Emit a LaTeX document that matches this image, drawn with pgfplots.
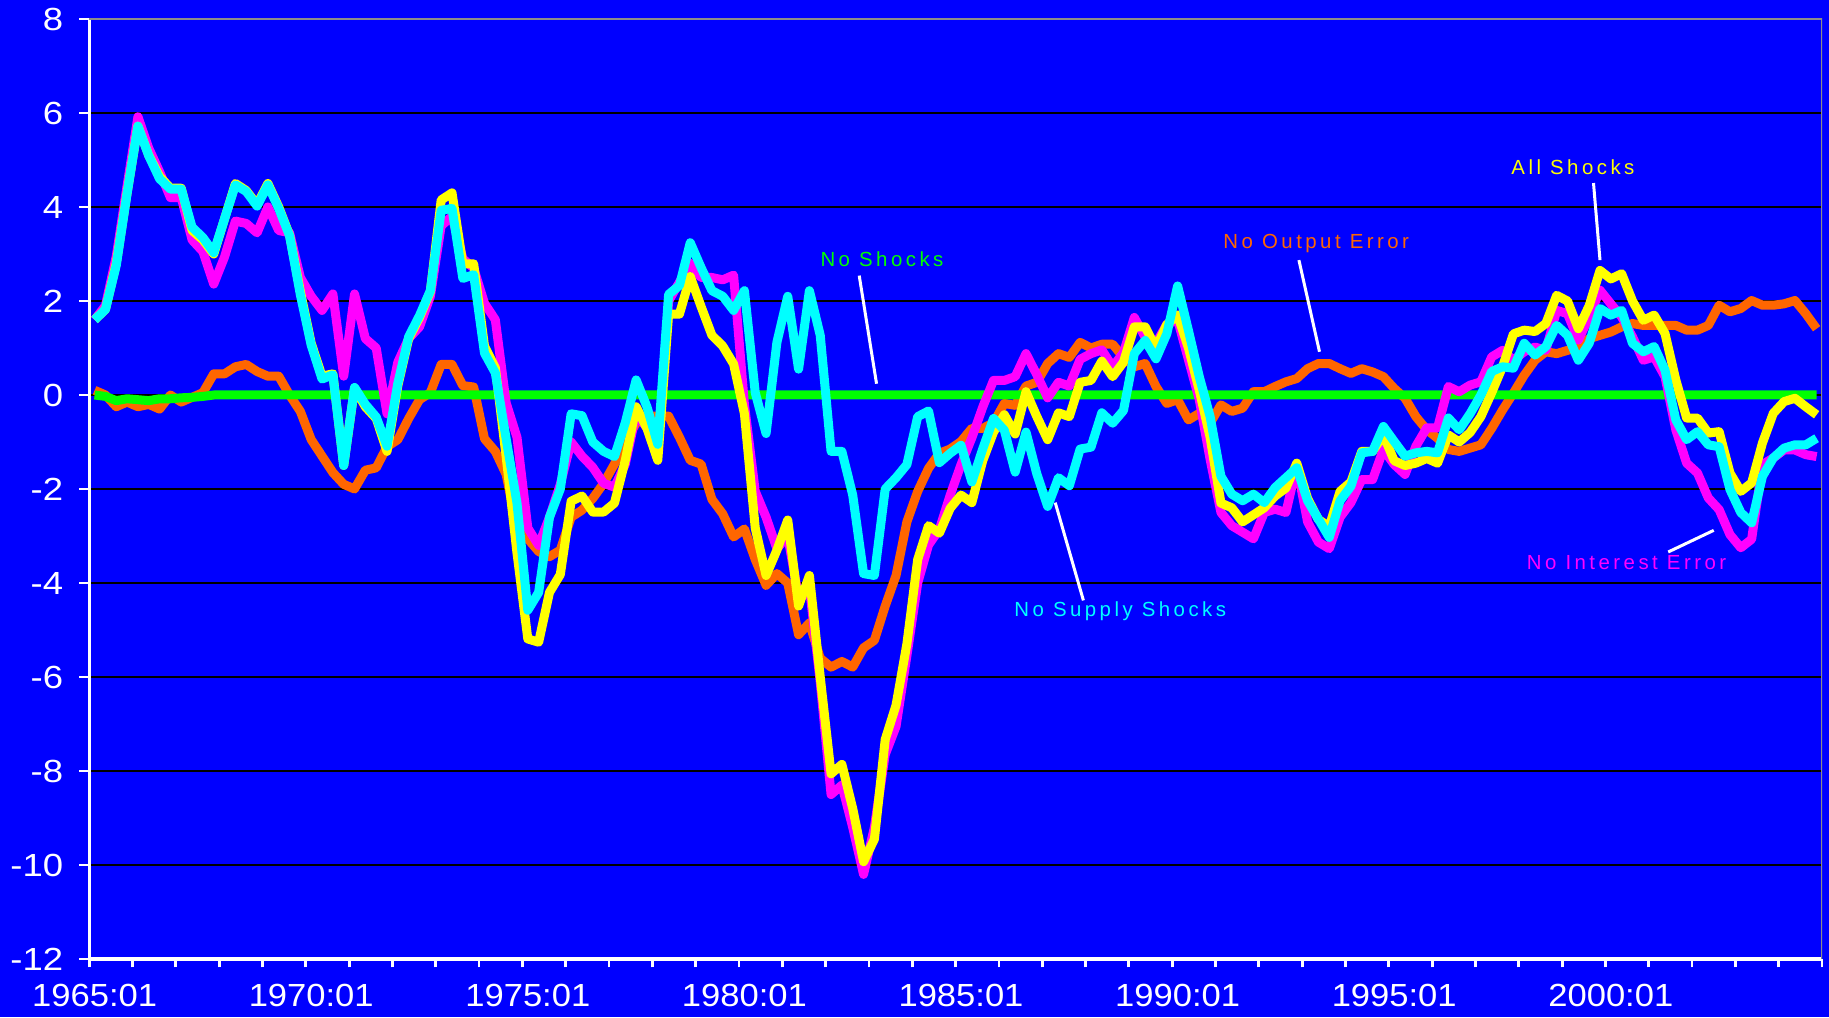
\documentclass[border=0pt]{standalone}
\usepackage{fontspec}
\setmainfont{Liberation Sans}
\newfontfamily\tickfont{Liberation Sans}[FakeStretch=1.08]
\newfontfamily\ytickfont{Liberation Sans}[FakeStretch=1.14]
\newfontfamily\annfont{Liberation Sans}[LetterSpace=17]
\usepackage{pgfplots}
\pgfplotsset{compat=1.18}
\usepackage{pgfplotstable}
\usetikzlibrary{backgrounds}
\definecolor{bgblue}{RGB}{0,0,255}
\definecolor{sercyan}{RGB}{0,255,255}
\definecolor{seryellow}{RGB}{255,255,0}
\definecolor{sermagenta}{RGB}{255,0,255}
\definecolor{serorange}{RGB}{255,102,0}
\definecolor{sergreen}{RGB}{0,255,0}
\definecolor{bordergray}{RGB}{140,140,140}

\pgfplotstableread{
q all nosupply nointerest nooutput noshocks
0 1.6 1.6 1.6 0.1 0
1 1.82 1.82 1.9 0.0 -0.03
2 2.8 2.76 2.95 -0.25 -0.12
3 4.3 4.29 4.45 -0.15 -0.08
4 5.72 5.72 5.92 -0.25 -0.1
5 5.1 5.09 5.25 -0.2 -0.12
6 4.65 4.6 4.75 -0.3 -0.08
7 4.4 4.38 4.2 0.0 -0.08
8 4.4 4.38 4.2 -0.15 -0.06
9 3.5 3.57 3.3 -0.05 -0.05
10 3.3 3.35 3.05 0.05 -0.03
11 3.0 3.03 2.36 0.45 0
12 3.75 3.75 2.94 0.45 0
13 4.5 4.47 3.7 0.6 0
14 4.35 4.33 3.65 0.65 0
15 4.05 4.02 3.45 0.5 0
16 4.5 4.47 4.0 0.4 0
17 4.0 3.97 3.5 0.4 0
18 3.4 3.39 3.45 0.0 0
19 2.2 2.13 2.5 -0.35 0
20 1.1 1.06 2.1 -0.95 0
21 0.4 0.34 1.8 -1.3 0
22 0.45 0.43 2.15 -1.65 0
23 -1.5 -1.5 0.4 -1.9 0
24 0.15 0.16 2.15 -2.0 0
25 -0.25 -0.2 1.2 -1.6 0
26 -0.5 -0.47 1.0 -1.55 0
27 -1.2 -1.09 -0.4 -1.1 0
28 0.2 0.25 0.7 -0.95 0
29 1.2 1.24 1.2 -0.5 0
30 1.65 1.69 1.45 -0.1 0
31 2.2 2.22 2.1 0.05 0
32 4.15 3.93 3.6 0.65 0
33 4.3 3.97 3.8 0.65 0
34 2.79 2.48 2.9 0.2 0
35 2.79 2.56 2.7 0.17 0
36 1.04 0.89 1.95 -0.93 0
37 0.58 0.47 1.6 -1.2 0
38 -1.31 -0.93 -0.17 -1.69 0
39 -3.36 -2.3 -0.9 -2.83 0
40 -5.19 -4.58 -2.83 -3.06 0
41 -5.26 -4.2 -3.2 -3.33 0
42 -4.2 -2.6 -2.6 -3.44 0
43 -3.82 -2.0 -1.9 -3.3 0
44 -2.26 -0.4 -1.0 -2.6 0
45 -2.15 -0.44 -1.3 -2.45 0
46 -2.49 -1.0 -1.54 -2.2 0
47 -2.49 -1.2 -1.88 -1.88 0
48 -2.3 -1.31 -1.96 -1.47 0
49 -1.39 -0.59 -1.47 -1.0 0
50 -0.25 0.32 -0.4 -0.6 0
51 -0.71 -0.25 -0.7 -0.45 0
52 -1.39 -1.05 -1.2 -0.45 0
53 1.72 2.14 2.0 -0.45 0
54 1.72 2.33 2.4 -0.9 0
55 2.52 3.24 2.8 -1.39 0
56 1.88 2.71 2.5 -1.47 0
57 1.27 2.22 2.5 -2.22 0
58 1.04 2.1 2.45 -2.53 0
59 0.66 1.8 2.55 -3.02 0
60 -0.4 2.22 -0.2 -2.85 0
61 -2.83 0.05 -2.05 -3.5 0
62 -3.84 -0.82 -2.6 -4.05 0
63 -3.3 1.12 -3.27 -3.8 0
64 -2.66 2.1 -3.0 -4.0 0
65 -4.49 0.55 -4.3 -5.1 0
66 -3.84 2.22 -4.08 -4.85 0
67 -6.0 1.27 -6.1 -5.6 0
68 -8.06 -1.2 -8.5 -5.79 0
69 -7.86 -1.2 -8.3 -5.67 0
70 -8.8 -2.13 -9.2 -5.79 0
71 -9.93 -3.8 -10.2 -5.38 0
72 -9.45 -3.84 -9.2 -5.22 0
73 -7.33 -2.0 -7.65 -4.49 0
74 -6.6 -1.76 -7.05 -3.84 0
75 -5.3 -1.48 -5.55 -2.7 0
76 -3.5 -0.46 -4.0 -2.05 0
77 -2.78 -0.34 -3.19 -1.56 0
78 -2.94 -1.44 -2.86 -1.24 0
79 -2.41 -1.24 -2.13 -1.15 0
80 -2.13 -1.07 -1.48 -0.99 0
81 -2.29 -1.85 -0.91 -0.71 0
82 -1.4 -1.15 -0.26 -0.71 0
83 -0.79 -0.5 0.31 -0.59 0
84 -0.42 -0.75 0.31 -0.18 0
85 -0.83 -1.64 0.39 -0.22 0
86 0.07 -0.79 0.88 0.19 0
87 -0.46 -1.68 0.43 0.27 0
88 -0.95 -2.37 -0.06 0.67 0
89 -0.38 -1.76 0.27 0.88 0
90 -0.46 -1.93 0.19 0.8 0
91 0.27 -1.15 0.76 1.12 0
92 0.31 -1.11 0.88 1.0 0
93 0.72 -0.38 0.96 1.08 0
94 0.39 -0.6 0.6 1.08 0
95 0.7 -0.33 0.9 0.8 0
96 1.45 0.88 1.65 0.6 0
97 1.45 1.16 1.23 0.67 0
98 1.0 0.77 1.1 0.18 0
99 1.5 1.3 1.5 -0.18 0
100 1.7 2.32 1.6 -0.1 0
101 1.0 1.37 0.75 -0.53 0
102 0.1 0.39 -0.1 -0.39 0
103 -0.9 -0.46 -1.37 -0.6 0
104 -2.3 -1.73 -2.5 -0.21 0
105 -2.4 -2.11 -2.78 -0.35 0
106 -2.7 -2.25 -2.92 -0.28 0
107 -2.55 -2.11 -3.06 0.07 0
108 -2.4 -2.29 -2.5 0.07 0
109 -2.15 -1.97 -2.43 0.18 0
110 -1.98 -1.76 -2.5 0.28 0
111 -1.45 -1.55 -1.5 0.35 0
112 -2.2 -2.25 -2.7 0.56 0
113 -2.65 -2.64 -3.13 0.67 0
114 -2.8 -3.03 -3.27 0.67 0
115 -2.05 -2.25 -2.6 0.56 0
116 -1.85 -1.94 -2.29 0.46 0
117 -1.2 -1.23 -1.8 0.56 0
118 -1.2 -1.2 -1.8 0.49 0
119 -0.85 -0.67 -1.16 0.39 0
120 -1.4 -0.99 -1.48 0.14 0
121 -1.5 -1.3 -1.69 -0.07 0
122 -1.45 -1.23 -1.09 -0.46 0
123 -1.35 -1.2 -0.7 -0.74 0
124 -1.45 -1.23 -0.7 -0.92 0
125 -0.85 -0.49 0.18 -1.16 0
126 -1.0 -0.74 0.07 -1.2 0
127 -0.8 -0.4 0.21 -1.13 0
128 -0.46 0.0 0.28 -1.06 0
129 0.05 0.5 0.81 -0.71 0
130 0.6 0.6 0.95 -0.32 0
131 1.3 0.57 0.74 0.04 0
132 1.38 1.1 0.92 0.42 0
133 1.35 0.85 1.02 0.74 0
134 1.52 1.03 0.95 0.92 0
135 2.12 1.48 1.8 0.88 0
136 2.0 1.27 1.73 0.95 0
137 1.41 0.74 1.17 1.02 0
138 1.9 1.1 1.66 1.2 0
139 2.65 1.84 2.23 1.27 0
140 2.47 1.7 1.94 1.34 0
141 2.58 1.8 1.66 1.45 0
142 2.0 1.1 1.24 1.52 0
143 1.59 0.92 0.74 1.48 0
144 1.7 1.03 0.81 1.48 0
145 1.31 0.53 0.39 1.48 0
146 0.32 -0.53 -0.74 1.48 0
147 -0.49 -0.95 -1.45 1.38 0
148 -0.49 -0.78 -1.66 1.38 0
149 -0.81 -1.06 -2.19 1.48 0
150 -0.78 -1.1 -2.44 1.91 0
151 -1.66 -2.01 -2.97 1.77 0
152 -2.05 -2.5 -3.25 1.84 0
153 -1.87 -2.72 -3.07 2.01 0
154 -1.02 -1.73 -1.48 1.91 0
155 -0.39 -1.34 -1.34 1.91 0
156 -0.14 -1.13 -1.17 1.94 0
157 -0.07 -1.06 -1.17 2.01 0
158 -0.25 -1.06 -1.27 1.73 0
159 -0.42 -0.92 -1.31 1.41 0
}\datatable

\begin{document}
\begin{tikzpicture}
\begin{axis}[
  scale only axis, width=866.4pt, height=470pt,
  xmin=-0.5, xmax=159.5, ymin=-12, ymax=8,
  axis lines*=left,
  axis line style={white, line width=1.6pt, -},
  xtick={0,20,...,140},
  xticklabels={1965:01,1970:01,1975:01,1980:01,1985:01,1990:01,1995:01,2000:01},
  minor xtick={-0.5,3.5,...,159.5},
  ytick={-12,-10,...,8},
  yticklabels={-12,-10,-8,-6,-4,-2,0,2,4,6,8},
  tick align=outside,
  major tick length=5pt, minor tick length=4.2pt,
  tick style={white, line width=1.4pt},
  major x tick style={draw=none},
  ymajorgrids, major grid style={black, line width=1.3pt},
  xticklabel style={white, font=\tickfont\fontsize{16}{19}\selectfont, yshift=-6.5pt, inner sep=1pt},
  yticklabel style={white, font=\ytickfont\fontsize{16}{19}\selectfont, xshift=-4.5pt},
  line join=round,
]
\coordinate (ll) at (rel axis cs:0,0);
\coordinate (ur) at (rel axis cs:1,1);
\addplot[serorange, line width=4.5pt] table[x=q, y=nooutput] {\datatable};
\addplot[sergreen, line width=4.5pt] table[x=q, y=noshocks] {\datatable};
\addplot[sermagenta, line width=4.5pt] table[x=q, y=nointerest] {\datatable};
\addplot[seryellow, line width=4.5pt] table[x=q, y=all] {\datatable};
\addplot[sercyan, line width=4.5pt] table[x=q, y=nosupply] {\datatable};
\draw[bordergray, line width=1.5pt] (rel axis cs:0,1) -- (rel axis cs:1,1) -- (rel axis cs:1,0);
% annotations
\draw[white, line width=1.5pt] (axis cs:70.6,2.54) -- (axis cs:72.2,0.24);
\draw[white, line width=1.5pt] (axis cs:111.2,2.87) -- (axis cs:113.1,0.92);
\draw[white, line width=1.5pt] (axis cs:138.4,4.51) -- (axis cs:139.0,2.87);
\draw[white, line width=1.5pt] (axis cs:88.7,-2.29) -- (axis cs:91.3,-4.37);
\draw[white, line width=1.5pt] (axis cs:145.3,-3.34) -- (axis cs:149.5,-2.88);
\node[text=sergreen, font=\annfont\fontsize{10.2}{12}\selectfont] at (axis cs:72.7,2.88) {No Shocks};
\node[text=serorange, font=\annfont\fontsize{10.2}{12}\selectfont] at (axis cs:112.8,3.22) {No Output Error};
\node[text=seryellow, font=\annfont\fontsize{10.2}{12}\selectfont] at (axis cs:136.5,4.85) {All Shocks};
\node[text=sercyan, font=\annfont\fontsize{10.2}{12}\selectfont] at (axis cs:94.7,-4.59) {No Supply Shocks};
\node[text=sermagenta, font=\annfont\fontsize{10.2}{12}\selectfont] at (axis cs:141.45,-3.56) {No Interest Error};
\end{axis}
\begin{scope}[on background layer]
\fill[bgblue] ([shift={(-44.6pt,-29pt)}]ll) rectangle ([shift={(3.5pt,9.5pt)}]ur);
\end{scope}
\pgfresetboundingbox
\path ([shift={(-44.6pt,-29pt)}]ll) rectangle ([shift={(3.5pt,9.5pt)}]ur);
\end{tikzpicture}
\end{document}
